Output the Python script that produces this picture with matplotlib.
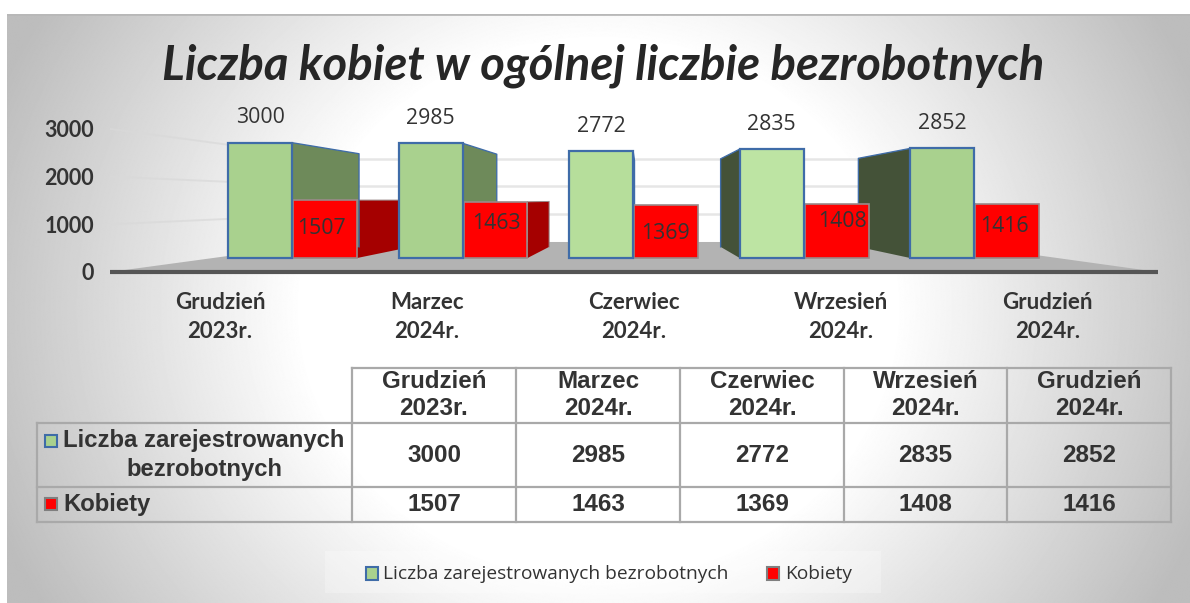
import numpy as np
import matplotlib
matplotlib.use("Agg")
import matplotlib.pyplot as plt
from matplotlib.patches import Polygon, Rectangle

categories = ["Grudzień\n2023r.", "Marzec\n2024r.", "Czerwiec\n2024r.", "Wrzesień\n2024r.", "Grudzień\n2024r."]
series_names = ["Liczba zarejestrowanych\nbezrobotnych", "Kobiety"]
legend_names = ["Liczba zarejestrowanych bezrobotnych", "Kobiety"]
registered = [3000, 2985, 2772, 2835, 2852]
women = [1507, 1463, 1369, 1408, 1416]
y_ticks = [0, 1000, 2000, 3000]

W, H = 1190, 603
GREEN = "#a9d18e"
BLUE = "#3f6ca8"
RED = "#ff0000"
DARK = "#333333"

fig = plt.figure(figsize=(W / 100, H / 100), dpi=100, facecolor="white")


def px_axes(left, top, right, bottom, **kw):
    return fig.add_axes([left / W, 1 - bottom / H, (right - left) / W, (bottom - top) / H], **kw)


# background, grey towards the sides
bg = px_axes(7, 14, W, H)
bg.set_axis_off()
xx, yy = np.meshgrid(np.linspace(-1, 1, 1200), np.linspace(-1, 1, 600))
dist = np.sqrt(xx ** 2 + (0.55 * yy) ** 2)
shade = np.clip(1 - np.clip(dist - 0.5, 0, 1) / 0.5 * 0.22, 0.74, 1)
bg.imshow(shade, cmap="gray", vmin=0, vmax=1, aspect="auto")
bg.plot([0, 1199], [0, 0], color="#b8b8b8", lw=2)
bg.set_xlim(0, 1199)
bg.set_ylim(599, 0)

# chart axes, y is the scale on the front plane of the box
ax = px_axes(110, 100, 1158, 272)
ax.patch.set_alpha(0)
ax.set_xlim(-0.465, 4.488)
ax.set_ylim(0, 3606)
for s in ax.spines.values():
    s.set_visible(False)
ax.set_xticks([])
ax.set_yticks(y_ticks)
ax.tick_params(axis="y", length=0, pad=11.5)
for lab in ax.get_yticklabels():
    lab.set_fontfamily("Lato")
    lab.set_fontweight("bold")
    lab.set_fontsize(15.5)
    lab.set_color(DARK)

# perspective: everything runs to one vanishing point
VX, VY = 2.04, 1509


def proj(x, v, d):
    return (x + d * (VX - x), v + d * (VY - v))


FLOOR = 0.417
BAR = 0.194
SIDE = 0.155
x0, x1 = ax.get_xlim()

# walls and floor
ax.add_patch(Polygon([proj(x0, 0, 0), proj(x0, 0, FLOOR), proj(x1, 0, FLOOR), proj(x1, 0, 0)],
                     fc="#b3b3b3", ec="none", zorder=1))
ax.add_patch(Polygon([proj(x0, 0, FLOOR), proj(x0, 3000, FLOOR), proj(x1, 3000, FLOOR), proj(x1, 0, FLOOR)],
                     fc="white", ec="none", zorder=0.5))
for t in y_ticks[1:]:
    a, b, c = proj(x0, t, 0), proj(x0, t, FLOOR), proj(x1, t, FLOOR)
    ax.plot([a[0], b[0]], [a[1], b[1]], color="#d9d9d9", lw=1.4, alpha=0.7, zorder=0.8)
    ax.plot([b[0], c[0]], [b[1], c[1]], color="#e6e6e6", lw=1.8, zorder=0.8)
ax.plot([x0, x1], [0, 0], color="#555555", lw=3, zorder=8, clip_on=False, solid_capstyle="butt")


def bar3d(x, w, v, face, side, edge, lw):
    left = x
    right = x + w
    # the side shows on the edge that looks towards the vanishing point
    if proj(right, v, BAR)[0] < VX - 0.02:
        e = right
    elif proj(left, v, BAR)[0] > VX + 0.02:
        e = left
    else:
        e = None
    if e is not None:
        pts = [proj(e, 0, BAR), proj(e, v, BAR), proj(e, v, BAR + SIDE), proj(e, 0, BAR + SIDE)]
        ax.add_patch(Polygon(pts, fc=side, ec="none", zorder=3))
        top = [proj(e, v, BAR), proj(e, v, BAR + SIDE), proj(e, 0, BAR + SIDE)]
        ax.plot([p[0] for p in top], [p[1] for p in top], color=edge, lw=lw * 0.6, zorder=3.1)
    ax.add_patch(Polygon([proj(left, 0, BAR), proj(left, v, BAR), proj(right, v, BAR), proj(right, 0, BAR)],
                         fc=face, ec=edge, lw=lw, zorder=5))


BW = 0.375
green_faces = [GREEN, GREEN, "#b6de9b", "#bde4a3", GREEN]
green_sides = ["#6e8a5a", "#6e8a5a", "#445238", "#445238", "#445238"]
for i in range(5):
    bar3d(i + 0.005, BW, women[i], RED, "#a50000", "#9a8a8a", 1.2)
    bar3d(i - BW, BW, registered[i], green_faces[i], green_sides[i], BLUE, 1.6)

# value labels
red_nudge = [(-3, 1), (1, 6), (-1, -2), (6, 9), (-3, 4)]
for i in range(5):
    fx, fy = proj(i - BW / 2, registered[i], BAR)
    ax.annotate(str(registered[i]), (fx, fy), xytext=(0, 25), textcoords="offset pixels", ha="center", va="center",
                fontfamily="Open Sans", fontsize=15.3, color=DARK, zorder=10, annotation_clip=False)
    fx, fy = proj(i + 0.005 + BW / 2, women[i] / 2, BAR)
    ax.annotate(str(women[i]), (fx, fy), xytext=red_nudge[i], textcoords="offset pixels", ha="center", va="center",
                fontfamily="Open Sans", fontsize=15.3, color=DARK, zorder=10, annotation_clip=False)

# category labels under the box
for i, c in enumerate(categories):
    ax.annotate(c, (i * 0.978 + 0.055, 0), xytext=(0, -45), textcoords="offset pixels", ha="center", va="center",
                fontfamily="Lato", fontweight="bold", fontsize=16, color=DARK, linespacing=1.5, annotation_clip=False)

fig.text(603 / W, 1 - 66 / H, "Liczba kobiet w ogólnej liczbie bezrobotnych", ha="center", va="center",
         fontfamily="Lato", fontstyle="italic", fontweight="bold", fontsize=34, color="#262626")

# data table
tb = px_axes(0, 0, W, H)
tb.set_axis_off()
tb.patch.set_alpha(0)
tb.set_xlim(0, W)
tb.set_ylim(H, 0)
col_x = [37, 352, 516, 680, 844, 1007, 1171]
row_y = [368, 423, 487, 522]
LINE = "#a9a9a9"
for y in row_y:
    tb.plot([col_x[0] if y != row_y[0] else col_x[1], col_x[-1]], [y, y], color=LINE, lw=1.6)
for j, x in enumerate(col_x):
    tb.plot([x, x], [row_y[0] if j else row_y[1], row_y[-1]], color=LINE, lw=1.6)
tfont = dict(fontfamily="Liberation Sans", fontweight="bold", color=DARK, ha="center", va="center")
for i in range(5):
    cx = (col_x[i + 1] + col_x[i + 2]) / 2
    tb.text(cx, 395, categories[i], fontsize=17.4, linespacing=1.24, **tfont)
    tb.text(cx, 455, str(registered[i]), fontsize=17.5, **tfont)
    tb.text(cx, 504.5, str(women[i]), fontsize=17.5, **tfont)
tb.text(204, 455, series_names[0], fontsize=17.2, linespacing=1.28, **tfont)
tb.text(63, 504, series_names[1], fontsize=17.2, fontfamily="Liberation Sans", fontweight="bold", color=DARK,
        ha="left", va="center")
tb.add_patch(Rectangle((45, 435), 12, 12, fc=GREEN, ec=BLUE, lw=1.5))
tb.add_patch(Rectangle((45, 498), 12, 12, fc=RED, ec="#7f7f7f", lw=1.5))

# legend
tb.add_patch(Rectangle((325, 551), 556, 42, fc="white", ec="none", alpha=0.25))
tb.add_patch(Rectangle((366, 567), 12, 13, fc=GREEN, ec=BLUE, lw=1.5))
tb.text(383, 574, legend_names[0], fontfamily="Open Sans", fontsize=13.8, color=DARK, ha="left", va="center")
tb.add_patch(Rectangle((767, 567), 12, 13, fc=RED, ec="#7f7f7f", lw=1.5))
tb.text(785, 574, legend_names[1], fontfamily="Open Sans", fontsize=13.8, color=DARK, ha="left", va="center")

fig.savefig("out.png", dpi=100, facecolor="white")
